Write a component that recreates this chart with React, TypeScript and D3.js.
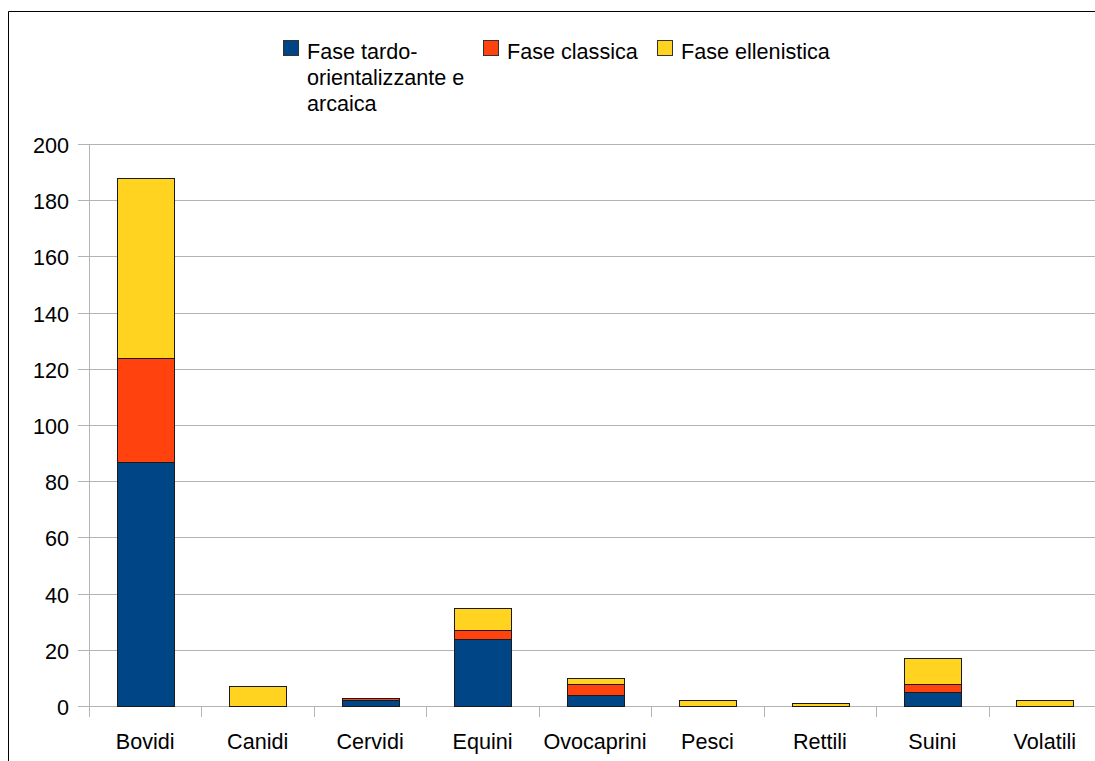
import React, { useRef, useEffect } from 'react';
import * as d3 from 'd3';

// data
const categories = ['Bovidi', 'Canidi', 'Cervidi', 'Equini', 'Ovocaprini', 'Pesci', 'Rettili', 'Suini', 'Volatili'];
const arcaica = [87, 0, 2, 24, 4, 0, 0, 5, 0];
const classica = [37, 0, 1, 3, 4, 0, 0, 3, 0];
const ellenistica = [64, 7, 0, 8, 2, 2, 1, 9, 2];
const seriesNames = ['Fase tardo-orientalizzante e arcaica', 'Fase classica', 'Fase ellenistica'];
const yTicks = [0, 20, 40, 60, 80, 100, 120, 140, 160, 180, 200];

const colors = ['#004586', '#ff420e', '#ffd320'];

function App() {
  const svgRef = useRef(null);

  useEffect(() => {
    const W = 1095;
    const H = 761;
    const left = 89;
    const top = 144;
    const bottom = 706;
    const band = 112.45;
    const font = '"Liberation Sans", Arial, sans-serif';
    const fs = 21.6;

    const svg = d3.select(svgRef.current).attr('width', W).attr('height', H);
    svg.selectAll('*').remove();

    svg.append('rect').attr('width', W).attr('height', H).attr('fill', 'white');
    // outer frame: only top and left edges are inside the picture
    svg
      .append('path')
      .attr('d', `M8.5,${H}V11.5H${W}`)
      .attr('fill', 'none')
      .attr('stroke', 'black')
      .attr('stroke-width', 1);

    const xScale = d3
      .scaleBand()
      .domain(categories)
      .range([left, left + band * categories.length]);
    const yScale = d3.scaleLinear().domain([0, 200]).range([bottom, top]);

    // grid lines
    const grid = svg.append('g');
    yTicks.forEach((t) => {
      const y = Math.round(yScale(t)) + 0.5;
      grid
        .append('line')
        .attr('x1', left - 11)
        .attr('x2', W)
        .attr('y1', y)
        .attr('y2', y)
        .attr('stroke', '#b3b3b3')
        .attr('stroke-width', 1);
      grid
        .append('text')
        .attr('x', 69)
        .attr('y', y + 8)
        .attr('text-anchor', 'end')
        .attr('font-family', font)
        .attr('font-size', fs)
        .attr('fill', 'black')
        .text(t);
    });

    // y axis line + category separators
    svg
      .append('line')
      .attr('x1', left + 0.5)
      .attr('x2', left + 0.5)
      .attr('y1', top)
      .attr('y2', bottom + 11)
      .attr('stroke', '#b3b3b3');
    categories.forEach((c) => {
      const x = Math.round((xScale(c) as number) + band) + 0.5;
      svg
        .append('line')
        .attr('x1', x)
        .attr('x2', x)
        .attr('y1', bottom)
        .attr('y2', bottom + 11)
        .attr('stroke', '#b3b3b3');
    });

    // stacked bars
    const rows = categories.map((c, i) => ({
      cat: c,
      a: arcaica[i],
      b: classica[i],
      c: ellenistica[i],
    }));
    const stack = d3.stack<any>().keys(['a', 'b', 'c'])(rows);
    const barW = band * 0.505;
    stack.forEach((layer, li) => {
      svg
        .append('g')
        .selectAll('rect')
        .data(layer)
        .join('rect')
        .filter((d: any) => d[1] - d[0] > 0)
        .attr('x', (d: any) => Math.round((xScale(d.data.cat) as number) + (band - barW) / 2) + 0.5)
        .attr('y', (d: any) => Math.round(yScale(d[1])) + 0.5)
        .attr('width', Math.round(barW))
        .attr('height', (d: any) => Math.round(yScale(d[0])) - Math.round(yScale(d[1])))
        .attr('fill', colors[li])
        .attr('stroke', '#1a1a1a')
        .attr('stroke-width', 1);
    });

    // x labels
    categories.forEach((c) => {
      svg
        .append('text')
        .attr('x', (xScale(c) as number) + band / 2)
        .attr('y', 749)
        .attr('text-anchor', 'middle')
        .attr('font-family', font)
        .attr('font-size', fs)
        .attr('fill', 'black')
        .text(c);
    });

    // legend
    const legendItems = [
      { x: 283, lines: ['Fase tardo-', 'orientalizzante e', 'arcaica'] },
      { x: 483, lines: ['Fase classica'] },
      { x: 657, lines: ['Fase ellenistica'] },
    ];
    legendItems.forEach((item, i) => {
      const g = svg.append('g').attr('aria-label', seriesNames[i]);
      g.append('rect')
        .attr('x', item.x + 0.5)
        .attr('y', 40.5)
        .attr('width', 15)
        .attr('height', 15)
        .attr('fill', colors[i])
        .attr('stroke', '#333')
        .attr('stroke-width', 1);
      item.lines.forEach((l, j) => {
        g.append('text')
          .attr('x', item.x + 24)
          .attr('y', 58.5 + j * 26)
          .attr('font-family', font)
          .attr('font-size', fs)
          .attr('fill', 'black')
          .text(l);
      });
    });
  }, []);

  return (
    <div style={{ position: 'absolute', left: 0, top: 0 }}>
      <svg ref={svgRef} style={{ display: 'block' }}></svg>
    </div>
  );
}

export default App;
